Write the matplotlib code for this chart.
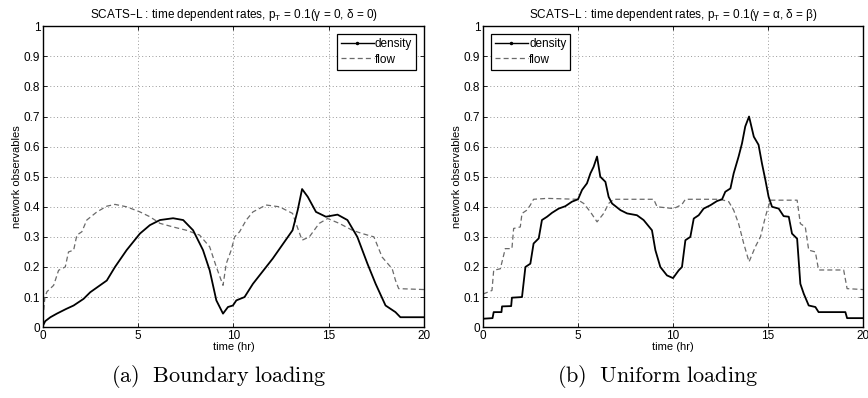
import matplotlib
matplotlib.use("Agg")
import matplotlib.pyplot as plt
from matplotlib.lines import Line2D

plt.rcParams['font.family'] = ['Liberation Sans', 'DejaVu Sans']

# -------------------- data --------------------
# (a) boundary loading
t_dens_a = [0.0, 0.12, 0.39, 0.73, 1.2, 1.61, 2.13, 2.48, 3.35, 3.78, 4.39, 5.09, 5.61,
            6.14, 6.83, 7.36, 7.88, 8.4, 8.75, 9.1, 9.45, 9.71, 9.97, 10.15, 10.58, 11.02,
            12.06, 13.1, 13.37, 13.6, 13.9, 14.33, 14.85, 15.46, 15.98, 16.5, 17.03, 17.46,
            17.98, 18.5, 18.76, 20.0]
dens_a = [0.005, 0.02, 0.033, 0.045, 0.06, 0.072, 0.094, 0.116, 0.155, 0.2, 0.256, 0.311,
          0.339, 0.356, 0.362, 0.356, 0.322, 0.256, 0.189, 0.089, 0.045, 0.067, 0.072,
          0.089, 0.1, 0.144, 0.228, 0.322, 0.389, 0.459, 0.433, 0.383, 0.367, 0.374, 0.356,
          0.3, 0.211, 0.144, 0.072, 0.05, 0.033, 0.033]
t_flow_a = [0.0, 0.1, 0.21, 0.56, 0.82, 1.17, 1.34, 1.61, 1.78, 2.04, 2.3, 2.83, 3.35,
            3.78, 4.39, 5.09, 5.61, 6.14, 6.83, 7.53, 8.22, 8.75, 9.1, 9.45, 9.62, 9.88,
            10.06, 10.32, 10.67, 11.02, 11.71, 12.41, 13.1, 13.28, 13.6, 13.98, 14.5,
            14.94, 15.55, 16.24, 16.76, 17.37, 17.8, 18.33, 18.5, 18.67, 20.0]
flow_a = [0.03, 0.1, 0.118, 0.139, 0.189, 0.2, 0.25, 0.256, 0.306, 0.317, 0.356, 0.383,
          0.402, 0.408, 0.4, 0.383, 0.367, 0.345, 0.333, 0.322, 0.306, 0.267, 0.2, 0.139,
          0.211, 0.256, 0.3, 0.317, 0.356, 0.383, 0.406, 0.4, 0.378, 0.345, 0.289, 0.3,
          0.345, 0.361, 0.345, 0.322, 0.311, 0.3, 0.233, 0.194, 0.156, 0.128, 0.125]

# (b) uniform loading
t_dens_b = [0.0, 0.5, 0.56, 0.97, 1.0, 1.48, 1.52, 2.05, 2.23, 2.49, 2.66, 2.93, 3.1,
            3.37, 3.63, 3.98, 4.33, 4.68, 5.0, 5.21, 5.47, 5.65, 5.82, 6.0, 6.17, 6.44,
            6.61, 6.79, 7.23, 7.58, 8.1, 8.45, 8.89, 9.07, 9.33, 9.68, 10.0, 10.3, 10.47,
            10.65, 10.91, 11.09, 11.35, 11.61, 11.96, 12.31, 12.58, 12.75, 13.02, 13.19,
            13.45, 13.63, 13.8, 14.0, 14.25, 14.5, 14.68, 14.86, 15.03, 15.21, 15.56,
            15.82, 16.09, 16.26, 16.53, 16.7, 16.88, 17.14, 17.49, 17.66, 19.07, 19.16, 20.0]
dens_b = [0.028, 0.03, 0.05, 0.05, 0.069, 0.07, 0.098, 0.1, 0.2, 0.211, 0.278, 0.295, 0.356,
          0.367, 0.38, 0.394, 0.402, 0.417, 0.425, 0.456, 0.478, 0.511, 0.533, 0.567, 0.5,
          0.483, 0.433, 0.411, 0.389, 0.378, 0.372, 0.356, 0.322, 0.256, 0.2, 0.172, 0.163,
          0.189, 0.2, 0.289, 0.3, 0.361, 0.372, 0.394, 0.405, 0.419, 0.425, 0.45, 0.461,
          0.511, 0.567, 0.611, 0.667, 0.7, 0.633, 0.606, 0.544, 0.489, 0.433, 0.4, 0.394,
          0.369, 0.367, 0.311, 0.294, 0.144, 0.111, 0.072, 0.067, 0.05, 0.05, 0.03, 0.03]
t_flow_b = [0.0, 0.47, 0.56, 0.91, 1.17, 1.52, 1.61, 1.96, 2.05, 2.31, 2.49, 2.66, 3.37,
            4.95, 5.3, 5.65, 6.0, 6.35, 6.61, 6.88, 8.98, 9.16, 10.04, 10.47, 10.65, 12.49,
            12.93, 13.19, 13.45, 13.72, 14.0, 14.33, 14.6, 14.86, 15.12, 16.53, 16.7, 16.96,
            17.14, 17.49, 17.66, 18.98, 19.16, 20.0]
flow_b = [0.11, 0.122, 0.189, 0.194, 0.261, 0.261, 0.328, 0.333, 0.378, 0.389, 0.406,
          0.425, 0.428, 0.425, 0.411, 0.383, 0.35, 0.378, 0.411, 0.425, 0.425, 0.4, 0.394,
          0.408, 0.425, 0.425, 0.417, 0.389, 0.344, 0.278, 0.217, 0.267, 0.3, 0.367, 0.422,
          0.422, 0.344, 0.333, 0.256, 0.25, 0.19, 0.19, 0.128, 0.125]

panels = [
    dict(td=t_dens_a, d=dens_a, tf=t_flow_a, f=flow_a,
         title=r'SCATS–L : time dependent rates, $\mathregular{p_T}$ = 0.1(γ = 0, δ = 0)',
         caption=r'$\mathrm{(a)\ \ Boundary\ loading}$', loc='upper right', cx=0.252),
    dict(td=t_dens_b, d=dens_b, tf=t_flow_b, f=flow_b,
         title=r'SCATS–L : time dependent rates, $\mathregular{p_T}$ = 0.1(γ = α, δ = β)',
         caption=r'$\mathrm{(b)\ \ Uniform\ loading}$', loc='upper left', cx=0.758),
]
positions = [[0.0495, 0.178, 0.439, 0.756], [0.5565, 0.178, 0.4378, 0.756]]

fig = plt.figure(figsize=(8.68, 3.98), dpi=100)
for p, pos in zip(panels, positions):
    ax = fig.add_axes(pos)
    ax.plot(p['tf'], p['f'], color='#6a6a6a', linestyle='--', dashes=(4, 2.5), linewidth=0.9)
    ax.plot(p['td'], p['d'], color='black', linewidth=1.3)
    ax.set_xlim(0, 20)
    ax.set_ylim(0, 1)
    ax.set_xticks([0, 5, 10, 15, 20])
    ax.set_yticks([i / 10 for i in range(11)])
    ax.set_yticklabels(['0', '0.1', '0.2', '0.3', '0.4', '0.5', '0.6', '0.7', '0.8', '0.9', '1'])
    ax.tick_params(direction='in', top=True, right=True, labelsize=8.5, length=3, width=0.6, pad=2)
    ax.grid(True, linestyle=(0, (1, 2.5)), color='#999999', linewidth=0.7)
    for s in ax.spines.values():
        s.set_linewidth(1.0)
    ax.set_xlabel('time (hr)', fontsize=8, labelpad=0)
    ax.set_ylabel('network observables', fontsize=8, labelpad=1)
    ax.set_title(p['title'], fontsize=8.5, pad=6)
    handles = [Line2D([], [], color='black', linewidth=1.0, marker='.', markersize=3),
               Line2D([], [], color='#6a6a6a', linestyle='--', dashes=(4, 2.5), linewidth=0.9)]
    leg = ax.legend(handles, ['density', 'flow'], loc=p['loc'], fontsize=8.5, fancybox=False,
                    framealpha=1, edgecolor='black', handlelength=2.8, handletextpad=0.1,
                    borderpad=0.35, labelspacing=0.3, borderaxespad=0.65)
    leg.get_frame().set_linewidth(0.9)
    fig.text(p['cx'], 0.053, p['caption'], ha='center', va='center', fontsize=16,
             math_fontfamily='cm')

fig.savefig('out.png', dpi=100)
